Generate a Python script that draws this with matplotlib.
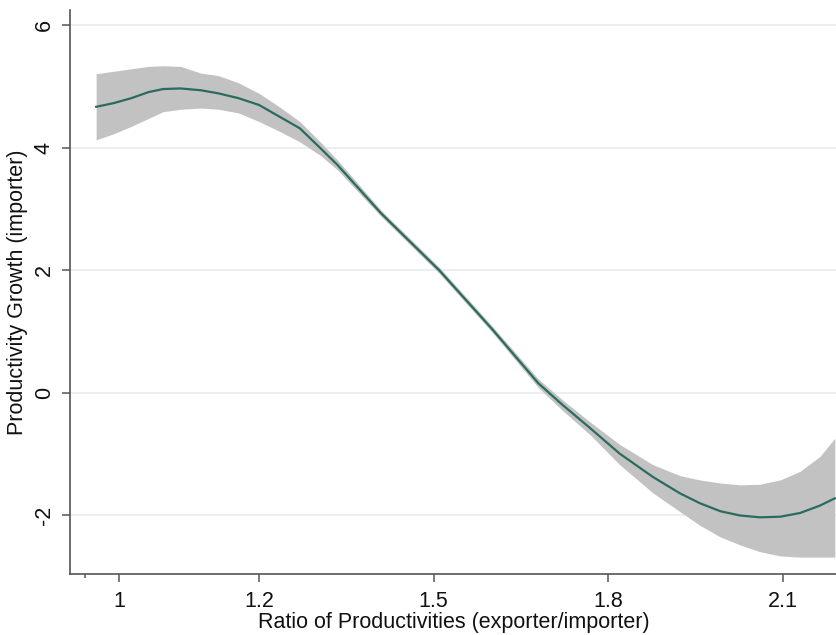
import numpy as np
import matplotlib.pyplot as plt

plt.rcParams['font.family'] = ['Liberation Sans', 'DejaVu Sans']

# --------------------------------------------
# values
# --------------------------------------------
ratio = [0.92, 0.95, 0.98, 1.01, 1.035, 1.065, 1.10, 1.13, 1.165, 1.20,
         1.235, 1.27, 1.305, 1.335, 1.41, 1.51, 1.60, 1.68, 1.72, 1.77,
         1.82, 1.877, 1.924, 1.958, 1.993, 2.027, 2.061, 2.096, 2.13, 2.164, 2.19]

fit = [4.67, 4.73, 4.81, 4.91, 4.96, 4.97, 4.94, 4.89, 4.81, 4.70,
       4.51, 4.32, 4.00, 3.72, 2.93, 2.00, 1.05, 0.16, -0.18, -0.58,
       -0.99, -1.37, -1.64, -1.80, -1.93, -2.00, -2.03, -2.02, -1.96, -1.84, -1.72]

ci_upper = [5.21, 5.25, 5.29, 5.33, 5.34, 5.33, 5.22, 5.18, 5.06, 4.89,
            4.67, 4.43, 4.10, 3.80, 2.98, 2.05, 1.10, 0.23, -0.10, -0.48,
            -0.84, -1.17, -1.35, -1.42, -1.47, -1.50, -1.49, -1.42, -1.28, -1.04, -0.74]

ci_lower = [4.13, 4.23, 4.35, 4.48, 4.59, 4.63, 4.65, 4.63, 4.57, 4.43,
            4.27, 4.10, 3.88, 3.64, 2.88, 1.95, 1.00, 0.09, -0.27, -0.69,
            -1.17, -1.63, -1.94, -2.16, -2.35, -2.48, -2.59, -2.66, -2.68, -2.68, -2.68]

y_ticks = [-2, 0, 2, 4, 6]
# the "1" label sits a little left of 1.0 in the original
x_tick_pos = [0.96, 1.2, 1.5, 1.8, 2.1]
x_tick_labels = ['1', '1.2', '1.5', '1.8', '2.1']
x_minor = [0.9]

# --------------------------------------------
# plot
# --------------------------------------------
fig = plt.figure(figsize=(8.37, 6.35), dpi=100)
ax = fig.add_axes([70 / 837, 61 / 635, 767 / 837, 564 / 635])

ax.fill_between(ratio, ci_lower, ci_upper, color='#c2c2c2', lw=0, zorder=2)
ax.plot(ratio, fit, color='#2b6b5f', lw=1.6, zorder=3)

ax.set_xlim(0.875, 2.1937)
ax.set_ylim(-2.955, 6.25)

ax.set_yticks(y_ticks)
ax.set_yticklabels([str(v) for v in y_ticks], rotation=90, va='center')
ax.set_xticks(x_tick_pos)
ax.set_xticklabels(x_tick_labels)
ax.set_xticks(x_minor, minor=True)

ax.grid(axis='y', color='#e6eef0', lw=1.2, zorder=0)
ax.set_axisbelow(True)

for side in ['top', 'right']:
    ax.spines[side].set_visible(False)
for side in ['left', 'bottom']:
    ax.spines[side].set_color('#555555')
    ax.spines[side].set_linewidth(1.2)

ax.tick_params(axis='both', which='major', length=6, width=1.1,
               color='#555555', labelsize=15.5, labelcolor='#111111')
ax.tick_params(axis='y', pad=5)
ax.tick_params(axis='x', pad=6)
ax.tick_params(axis='x', which='minor', length=3, width=1.1, color='#555555')

ax.set_xlabel('Ratio of Productivities (exporter/importer)', fontsize=15.5,
              color='#111111', labelpad=0)
ax.set_ylabel('Productivity Growth (importer)', fontsize=15.5,
              color='#111111', labelpad=4)

fig.savefig('out.png', dpi=100, facecolor='white')
